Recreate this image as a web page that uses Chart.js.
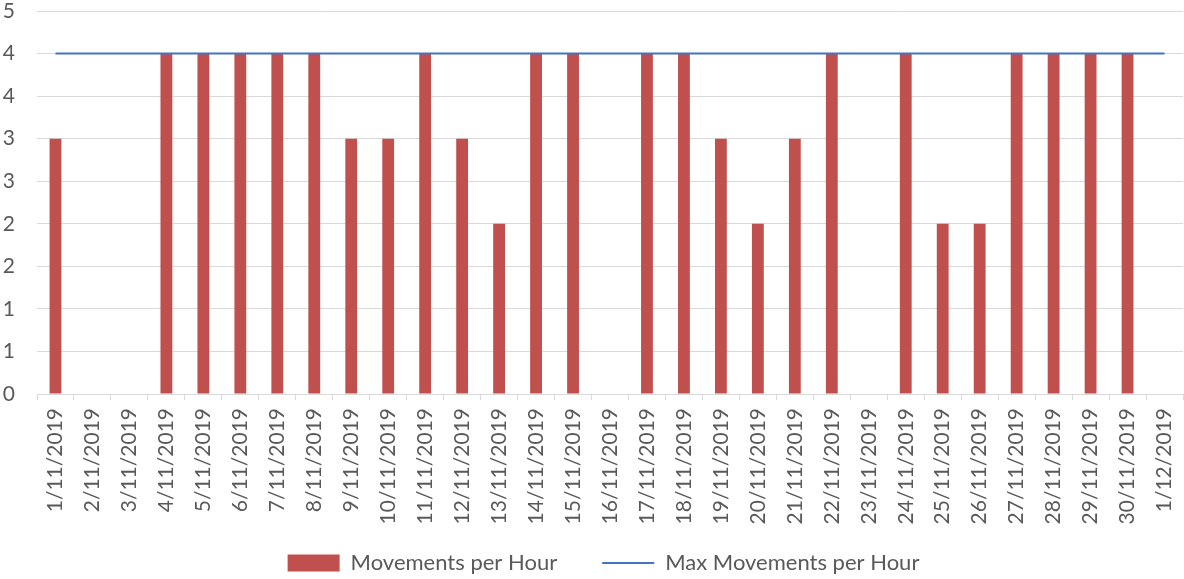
<!DOCTYPE html>
<html>
<head>
<meta charset="utf-8">
<script src="https://cdn.jsdelivr.net/npm/chart.js@4/dist/chart.umd.min.js"></script>
<style>
  html, body { margin: 0; padding: 0; background: #ffffff; }
  #wrap { width: 1184px; height: 579px; position: relative; }
</style>
</head>
<body>
<div id="wrap"><canvas id="chart"></canvas></div>
<script>
// Dates along the x axis
const dates = [
  '1/11/2019', '2/11/2019', '3/11/2019', '4/11/2019', '5/11/2019', '6/11/2019',
  '7/11/2019', '8/11/2019', '9/11/2019', '10/11/2019', '11/11/2019', '12/11/2019',
  '13/11/2019', '14/11/2019', '15/11/2019', '16/11/2019', '17/11/2019', '18/11/2019',
  '19/11/2019', '20/11/2019', '21/11/2019', '22/11/2019', '23/11/2019', '24/11/2019',
  '25/11/2019', '26/11/2019', '27/11/2019', '28/11/2019', '29/11/2019', '30/11/2019',
  '1/12/2019'
];

// Movements per hour (null = no bar)
const movements = [
  3, null, null, 4, 4, 4,
  4, 4, 3, 3, 4, 3,
  2, 4, 4, null, 4, 4,
  3, 2, 3, 4, null, 4,
  2, 2, 4, 4, 4, 4,
  null
];

// Max movements per hour (flat line)
const maxMovements = [
  4, 4, 4, 4, 4, 4, 4, 4, 4, 4, 4, 4, 4, 4, 4, 4,
  4, 4, 4, 4, 4, 4, 4, 4, 4, 4, 4, 4, 4, 4, 4
];

// y axis ticks go 0..4.5 in 0.5 steps, shown rounded like the original
const yTickLabels = ['0', '1', '1', '2', '2', '3', '3', '4', '4', '5'];

const textColor = '#595959';
const gridColor = '#d9d9d9';
const fontFamily = 'Lato, "Liberation Sans", sans-serif';

// legend padding also sets the vertical offset, so nudge the box after layout
const legendShift = {
  id: 'legendShift',
  afterLayout(chart) {
    const lg = chart.legend;
    if (!lg) return;
    lg.top -= 17;
    lg.bottom -= 17;
    lg.left += 12;
    lg.right += 12;
  }
};

const ctx = document.getElementById('chart').getContext('2d');
new Chart(ctx, {
  type: 'bar',
  data: {
    labels: dates,
    datasets: [
      {
        type: 'line',
        label: 'Max Movements per Hour',
        data: maxMovements,
        borderColor: '#4472c4',
        backgroundColor: '#4472c4',
        borderWidth: 2,
        pointRadius: 0,
        fill: false,
        tension: 0
      },
      {
        type: 'bar',
        label: 'Movements per Hour',
        data: movements,
        backgroundColor: '#c0504d',
        borderWidth: 0,
        barPercentage: 0.32,
        categoryPercentage: 1
      }
    ]
  },
  options: {
    responsive: true,
    maintainAspectRatio: false,
    animation: false,
    devicePixelRatio: 1,
    layout: { padding: { left: 0, right: 1, top: 11, bottom: -22 } },
    plugins: {
      tooltip: { enabled: false },
      legend: {
        position: 'bottom',
        reverse: true,
        labels: {
          color: textColor,
          font: { family: fontFamily, size: 22 },
          usePointStyle: true,
          pointStyleWidth: 52,
          boxHeight: 17,
          padding: 45,
          generateLabels(chart) {
            const items = Chart.defaults.plugins.legend.labels.generateLabels(chart);
            items.forEach(item => {
              item.pointStyle = item.datasetIndex === 0 ? 'line' : 'rect';
            });
            return items;
          }
        }
      }
    },
    scales: {
      x: {
        offset: true,
        grid: {
          offset: true,
          drawOnChartArea: false,
          drawTicks: true,
          tickLength: 6,
          color: gridColor
        },
        border: { display: true, color: gridColor, width: 1 },
        ticks: {
          color: textColor,
          font: { family: fontFamily, size: 21 },
          autoSkip: false,
          maxRotation: 90,
          minRotation: 90,
          padding: 8
        },
        afterFit(scale) {
          scale.height = 130;
          scale.paddingLeft = 0;
          scale.paddingRight = 0;
        }
      },
      y: {
        min: 0,
        max: 4.5,
        grid: { color: gridColor, lineWidth: 1, drawTicks: false },
        border: { display: false },
        ticks: {
          stepSize: 0.5,
          color: textColor,
          font: { family: fontFamily, size: 21 },
          padding: 22,
          callback: (value, index) => yTickLabels[index]
        },
        afterFit(scale) {
          scale.width = 37;
          scale.paddingTop = 0;
          scale.paddingBottom = 0;
        }
      }
    }
  },
  plugins: [legendShift]
});
</script>
</body>
</html>
